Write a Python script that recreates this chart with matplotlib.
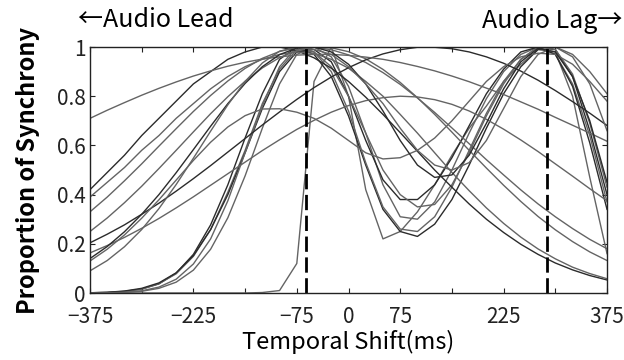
import numpy as np
import matplotlib
matplotlib.use("Agg")
import matplotlib.pyplot as plt

plt.rcParams['font.family'] = ['Noto Sans CJK JP', 'DejaVu Sans']

# temporal shift sampling grid (ms)
shift_ms = np.arange(-375, 376, 25)

# proportion of synchrony, one fitted curve per participant
step = [0, 0, 0, 0, 0, 0, 0, 0, 0, 0, 0.002, 0.01, 0.12, 0.86, 1.0, 0.80, 0.42, 0.22, 0.25, 0.33,
        0.44, 0.56, 0.67, 0.76, 0.86, 0.93, 0.99, 0.98, 0.80, 0.47, 0.16]
g1 = [0.001, 0.002, 0.006, 0.016, 0.037, 0.081, 0.157, 0.277, 0.44, 0.63, 0.81, 0.95, 1.0,
      0.97, 0.88, 0.72, 0.52, 0.34, 0.25, 0.23, 0.28, 0.38, 0.52, 0.67, 0.81, 0.92, 0.99, 0.99, 0.88, 0.66, 0.40]
g2 = [0.001, 0.002, 0.007, 0.016, 0.038, 0.078, 0.149, 0.258, 0.41, 0.58, 0.77, 0.91, 0.99, 0.98,
      0.90, 0.74, 0.53, 0.35, 0.26, 0.25, 0.31, 0.43, 0.58, 0.73, 0.86, 0.95, 1.0, 0.97, 0.85, 0.64, 0.37]
g3 = [0.0002, 0.0008, 0.0025, 0.007, 0.019, 0.044, 0.093, 0.178, 0.306, 0.476, 0.67, 0.85, 0.97, 1.0,
      0.96, 0.84, 0.65, 0.44, 0.31, 0.30, 0.37, 0.50, 0.65, 0.79, 0.90, 0.97, 1.0, 1.0, 0.97, 0.90, 0.81]
g4 = [0.001, 0.003, 0.008, 0.019, 0.041, 0.082, 0.152, 0.258, 0.40, 0.57, 0.75, 0.90, 0.98, 0.99,
      0.94, 0.80, 0.62, 0.46, 0.38, 0.38, 0.44, 0.55, 0.68, 0.81, 0.91, 0.98, 1.0, 0.97, 0.84, 0.61, 0.34]
g5 = [0.0003, 0.001, 0.003, 0.009, 0.024, 0.056, 0.118, 0.22, 0.375, 0.57, 0.76, 0.92, 1.0, 0.98,
      0.92, 0.80, 0.65, 0.50, 0.40, 0.35, 0.36, 0.44, 0.57, 0.72, 0.85, 0.95, 1.0, 0.99, 0.89, 0.69, 0.43]
u1 = [0.42, 0.49, 0.56, 0.64, 0.71, 0.78, 0.85, 0.90, 0.95, 0.98, 1.0, 1.0, 0.985, 0.956, 0.914, 0.86,
      0.796, 0.726, 0.652, 0.576, 0.50, 0.43, 0.362, 0.30, 0.246, 0.198, 0.157, 0.122, 0.094, 0.071, 0.053]
u2 = [0.39, 0.45, 0.51, 0.58, 0.64, 0.71, 0.77, 0.83, 0.88, 0.92, 0.95, 0.97, 0.98, 0.974, 0.95, 0.914,
      0.86, 0.80, 0.726, 0.65, 0.57, 0.49, 0.416, 0.346, 0.283, 0.227, 0.179, 0.139, 0.105, 0.079, 0.058]
u3 = [0.33, 0.39, 0.456, 0.525, 0.597, 0.668, 0.738, 0.803, 0.862, 0.913, 0.954, 0.982, 0.997, 0.999,
      0.989, 0.968, 0.937, 0.896, 0.848, 0.793, 0.734, 0.671, 0.607, 0.542, 0.48, 0.419, 0.362, 0.31,
      0.262, 0.218, 0.18]
u4 = [0.25, 0.305, 0.367, 0.434, 0.506, 0.58, 0.655, 0.729, 0.798, 0.861, 0.915, 0.957, 0.985, 0.999,
      0.997, 0.981, 0.952, 0.909, 0.856, 0.794, 0.726, 0.654, 0.58, 0.508, 0.438, 0.372, 0.311, 0.257,
      0.209, 0.167, 0.132]
u5 = [0.204, 0.239, 0.277, 0.32, 0.365, 0.414, 0.465, 0.518, 0.573, 0.628, 0.683, 0.736, 0.787, 0.835,
      0.878, 0.916, 0.948, 0.972, 0.989, 0.999, 0.999, 0.993, 0.98, 0.96, 0.934, 0.902, 0.865, 0.823,
      0.778, 0.731, 0.681]
u6 = [0.71, 0.743, 0.774, 0.804, 0.832, 0.858, 0.882, 0.903, 0.922, 0.938, 0.951, 0.96, 0.967, 0.97,
      0.97, 0.966, 0.959, 0.95, 0.937, 0.921, 0.903, 0.882, 0.859, 0.833, 0.807, 0.777, 0.747, 0.714,
      0.682, 0.65, 0.617]
u7 = [0.163, 0.193, 0.226, 0.263, 0.303, 0.346, 0.391, 0.438, 0.485, 0.532, 0.579, 0.623, 0.665, 0.702,
      0.735, 0.762, 0.782, 0.794, 0.80, 0.797, 0.786, 0.767, 0.74, 0.706, 0.666, 0.622, 0.575, 0.525,
      0.475, 0.424, 0.375]
h1 = [0.13, 0.178, 0.236, 0.304, 0.379, 0.459, 0.539, 0.613, 0.675, 0.721, 0.748, 0.749, 0.735, 0.71,
      0.67, 0.62, 0.57, 0.545, 0.55, 0.58, 0.63, 0.70, 0.78, 0.86, 0.92, 0.96, 0.975, 0.97, 0.93, 0.86, 0.78]
h2 = [0.14, 0.189, 0.249, 0.32, 0.40, 0.489, 0.583, 0.678, 0.77, 0.852, 0.92, 0.969, 0.996, 1.0, 0.98,
      0.93, 0.85, 0.74, 0.62, 0.52, 0.47, 0.48, 0.56, 0.69, 0.83, 0.94, 0.995, 0.98, 0.88, 0.70, 0.45]
h3 = [0.09, 0.132, 0.188, 0.258, 0.343, 0.441, 0.548, 0.658, 0.765, 0.86, 0.935, 0.983, 1.0, 0.99, 0.97,
      0.92, 0.85, 0.77, 0.67, 0.58, 0.52, 0.50, 0.53, 0.62, 0.75, 0.88, 0.97, 1.0, 0.96, 0.85, 0.66]

curves = [step, g1, g2, g3, g4, g5, u1, u2, u3, u4, u5, u6, u7, h1, h2, h3]
dark = {1, 4, 6, 10, 14}

# reference lines (ms)
ref_lines = [-62, 288]

xticks = np.arange(-375, 376, 75)
xlabels = {-375: '−375', -225: '−225', -75: '−75', 0: '0', 75: '75', 225: '225', 375: '375'}
yticks = [0, 0.2, 0.4, 0.6, 0.8, 1]
ylabels = ['0', '0.2', '0.4', '0.6', '0.8', '1']

fig = plt.figure(figsize=(6.24, 3.6), dpi=100)
ax = fig.add_axes([0.1442, 0.1861, 0.8286, 0.6833])

for i, c in enumerate(curves):
    ax.plot(shift_ms, c, color='#2b2b2b' if i in dark else '#646464', lw=1.0)

for xv in ref_lines:
    ax.axvline(xv, color='black', lw=2.0, ls=(0, (5.5, 2)))

ax.set_xlim(-375, 375)
ax.set_ylim(0, 1)
ax.set_xticks(xticks)
ax.set_xticklabels([xlabels.get(int(t), '') for t in xticks])
ax.set_yticks(yticks)
ax.set_yticklabels(ylabels)
ax.tick_params(direction='in', top=True, right=True, length=3.5, width=0.8,
               labelsize=15, colors='#222222')
ax.tick_params(axis='x', pad=9)
ax.tick_params(axis='y', pad=3)
for s in ax.spines.values():
    s.set_linewidth(1.0)
    s.set_color('#222222')

ax.set_xlabel('Temporal Shift(ms)', fontsize=17, labelpad=2)
ax.set_ylabel('Proportion of Synchrony', fontsize=17, fontweight='bold', labelpad=12)

fig.text(78 / 624, 1 - 20 / 360, '←Audio Lead', fontsize=18, ha='left', va='center')
fig.text(622 / 624, 1 - 21 / 360, 'Audio Lag→', fontsize=18, ha='right', va='center')

fig.savefig('out.png', dpi=100)
